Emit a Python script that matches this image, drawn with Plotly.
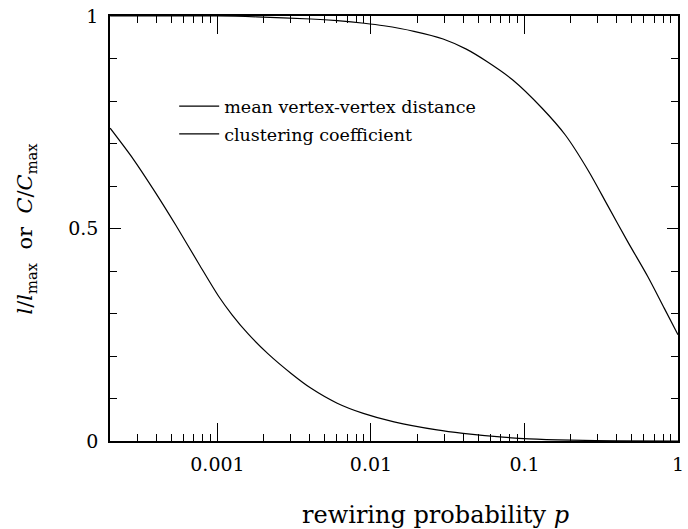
import plotly.graph_objects as go

# Data (rewiring probability p, normalised value)
p_dist = [0.0002, 0.000282, 0.000389, 0.000537, 0.000759, 0.00102, 0.001245, 0.001585,
          0.002138, 0.003020, 0.004074, 0.006026, 0.008913, 0.01413, 0.02692,
          0.03981, 0.07244, 0.1072, 0.1995, 0.4, 1.0]
l_dist = [0.736, 0.664, 0.588, 0.507, 0.416, 0.340, 0.297, 0.252,
          0.205, 0.159, 0.124, 0.089, 0.065, 0.045, 0.026,
          0.018, 0.009, 0.005, 0.002, 0.0005, 0.0]

p_clust = [0.0002, 0.001, 0.0018, 0.00407, 0.00603, 0.00902, 0.01213, 0.01905,
           0.02951, 0.04178, 0.05623, 0.08356, 0.1303, 0.1845,
           0.2606, 0.3508, 0.4721, 0.6353, 0.8147, 1.0]
c_clust = [1.0, 1.0, 0.998, 0.993, 0.989, 0.983, 0.977, 0.964,
           0.946, 0.922, 0.894, 0.850, 0.783, 0.720,
           0.636, 0.552, 0.468, 0.387, 0.312, 0.250]

x_tickvals = [0.001, 0.01, 0.1, 1]
x_ticktext = ["0.001", "0.01", "0.1", "1"]
y_tickvals = [0, 0.5, 1]
y_ticktext = ["0", "0.5", "1"]

FONT = "DejaVu Serif"

x_minor = [k * 10.0 ** e for e in range(-4, 1) for k in range(2, 10)]
y_minor = [i / 10 for i in range(11)]

fig = go.Figure()
fig.add_trace(go.Scatter(x=p_dist, y=l_dist, mode="lines",
                         line=dict(color="black", width=1.2, shape="spline", smoothing=0.8),
                         name="mean vertex-vertex distance", legendgroup="a"))
fig.add_trace(go.Scatter(x=p_clust, y=c_clust, mode="lines",
                         line=dict(color="black", width=1.2, shape="spline", smoothing=0.8),
                         name="clustering coefficient", legendgroup="b"))

axis_common = dict(showline=True, linecolor="black", linewidth=1.5, mirror="ticks",
                   showgrid=False, zeroline=False, ticks="inside", tickcolor="black",
                   tickwidth=1.3, ticklabeloverflow="allow",
                   tickfont=dict(family=FONT, size=19, color="black"))

fig.update_xaxes(type="log", range=[-3.70, 0.0], tickvals=x_tickvals, ticktext=x_ticktext,
                 ticklen=18, ticklabelstandoff=5,
                 minor=dict(tickvals=x_minor, ticks="inside", ticklen=7, tickcolor="black",
                            tickwidth=1.2, showgrid=False),
                 **axis_common)
fig.update_yaxes(range=[0, 1], tickvals=y_tickvals, ticktext=y_ticktext,
                 ticklen=11, ticklabelstandoff=6,
                 minor=dict(tickvals=y_minor, ticks="inside", ticklen=7, tickcolor="black",
                            tickwidth=1.2, showgrid=False),
                 **axis_common)

fig.add_annotation(text="<i>l</i>/<i>l</i><sub>max</sub>  or  <i>C</i>/<i>C</i><sub>max</sub>",
                   xref="paper", yref="paper", x=-0.148, y=0.5, textangle=-90,
                   showarrow=False, xanchor="center", yanchor="middle",
                   font=dict(family=FONT, size=21, color="black"))
fig.add_annotation(text="rewiring probability <i>p</i>",
                   xref="paper", yref="paper", x=0.573, y=-0.174,
                   showarrow=False, xanchor="center", yanchor="middle",
                   font=dict(family=FONT, size=24, color="black"))

fig.update_layout(
    width=688, height=529,
    margin=dict(l=110, r=4, t=16, b=88),
    paper_bgcolor="white", plot_bgcolor="white",
    showlegend=True,
    legend=dict(x=0.113, y=0.83, xanchor="left", yanchor="top",
                bgcolor="rgba(0,0,0,0)", borderwidth=0,
                font=dict(family=FONT, size=17.5, color="black"),
                itemwidth=40, tracegroupgap=2, traceorder="grouped"),
)

fig.write_html("out.html")
